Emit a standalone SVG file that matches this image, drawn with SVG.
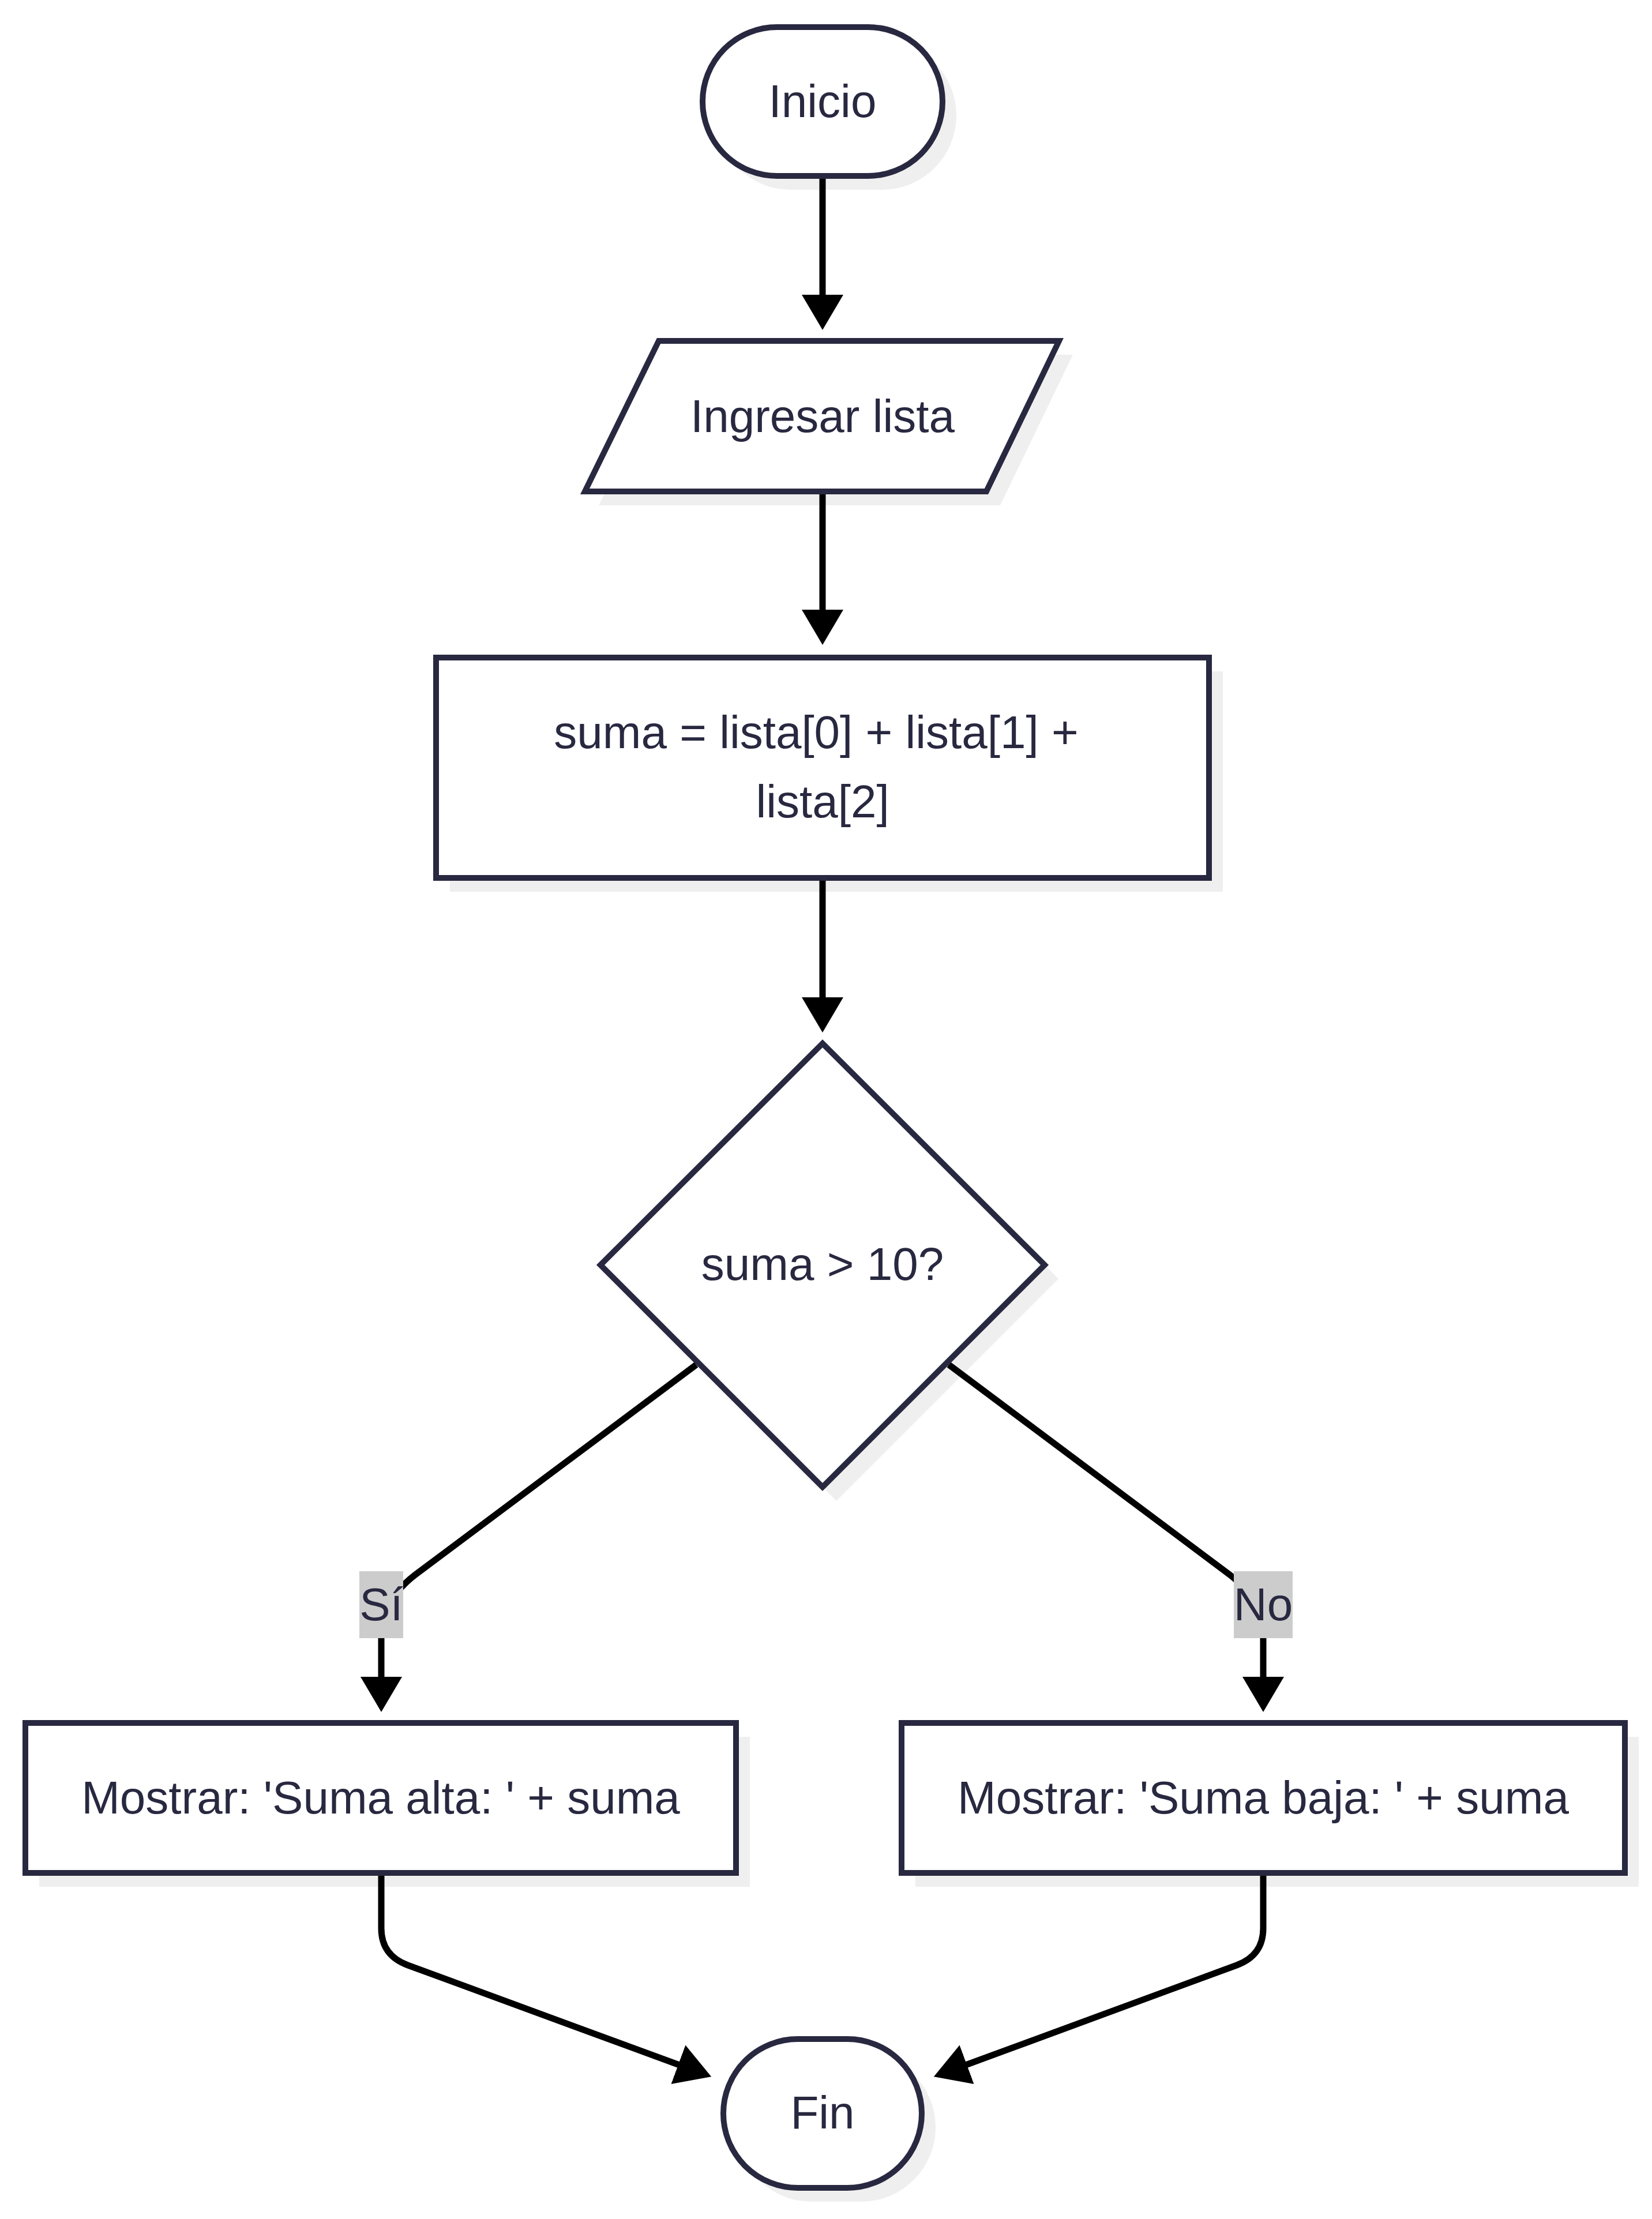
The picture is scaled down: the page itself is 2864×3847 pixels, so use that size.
<svg xmlns="http://www.w3.org/2000/svg" width="2864" height="3847" viewBox="0 0 2864 3847">
  <style>
    .node { fill: #ffffff; stroke: #282840; stroke-width: 10; }
    .shadow { fill: #efefef; stroke: none; }
    .edge { fill: none; stroke: #000000; stroke-width: 11; }
    .label { font-family: "Liberation Sans", Arial, sans-serif; font-size: 80px; fill: #282840; text-anchor: middle; }
    .label-bg { fill: #cccccc; }
  </style>
  <defs>
    <marker id="arrow" markerUnits="userSpaceOnUse" markerWidth="62" markerHeight="74" refX="31" refY="37" orient="auto">
      <path d="M0,1 L61,37 L0,73 Z" fill="#000000"/>
    </marker>
  </defs>

  <!-- drop shadows -->
  <g id="shadows">
    <rect class="shadow" x="1242" y="71" width="416" height="258" rx="129"/>
    <polygon class="shadow" points="1166,615 1860,615 1734,876 1038,876"/>
    <rect class="shadow" x="780" y="1164" width="1340" height="382"/>
    <polygon class="shadow" points="1450,1833 1835,2217 1450,2602 1065,2217"/>
    <rect class="shadow" x="68" y="3011" width="1232" height="260"/>
    <rect class="shadow" x="1587" y="3011" width="1254" height="260"/>
    <rect class="shadow" x="1278" y="3559" width="344" height="258" rx="129"/>
  </g>

  <!-- connectors -->
  <g id="edges">
    <path class="edge" d="M1426,305 L1426,542" marker-end="url(#arrow)"/>
    <path class="edge" d="M1426,852 L1426,1088" marker-end="url(#arrow)"/>
    <path class="edge" d="M1426,1522 L1426,1760" marker-end="url(#arrow)"/>
    <path class="edge" d="M1207,2366 L720,2730 Q662,2774 661,2840 L661,2938" marker-end="url(#arrow)"/>
    <path class="edge" d="M1645,2366 L2132,2730 Q2188,2774 2190,2840 L2190,2938" marker-end="url(#arrow)"/>
    <path class="edge" d="M661,3247 L661,3343 Q661,3390 707,3407 L1205,3590" marker-end="url(#arrow)"/>
    <path class="edge" d="M2190,3247 L2190,3343 Q2190,3390 2144,3407 L1647,3590" marker-end="url(#arrow)"/>
    <g id="edge-label-si">
      <rect class="label-bg" x="623" y="2724" width="76" height="116"/>
      <text class="label" x="661" y="2809">Sí</text>
    </g>
    <g id="edge-label-no">
      <rect class="label-bg" x="2139" y="2724" width="102" height="116"/>
      <text class="label" x="2190" y="2809">No</text>
    </g>
  </g>

  <!-- nodes -->
  <g id="inicio">
    <rect class="node" x="1218" y="47" width="416" height="258" rx="129"/>
    <text class="label" x="1426" y="203">Inicio</text>
  </g>
  <g id="ingresar">
    <polygon class="node" points="1142,591 1836,591 1710,852 1014,852"/>
    <text class="label" x="1426" y="749">Ingresar lista</text>
  </g>
  <g id="suma">
    <rect class="node" x="756" y="1140" width="1340" height="382"/>
    <text class="label" x="1415" y="1297">suma = lista[0] + lista[1] +</text>
    <text class="label" x="1426" y="1417">lista[2]</text>
  </g>
  <g id="decision">
    <polygon class="node" points="1426,1809 1811,2193 1426,2578 1041,2193"/>
    <text class="label" x="1426" y="2219">suma &gt; 10?</text>
  </g>
  <g id="mostrar-alta">
    <rect class="node" x="44" y="2987" width="1232" height="260"/>
    <text class="label" x="660" y="3144">Mostrar: 'Suma alta: ' + suma</text>
  </g>
  <g id="mostrar-baja">
    <rect class="node" x="1563" y="2987" width="1254" height="260"/>
    <text class="label" x="2190" y="3144">Mostrar: 'Suma baja: ' + suma</text>
  </g>
  <g id="fin">
    <rect class="node" x="1254" y="3535" width="344" height="258" rx="129"/>
    <text class="label" x="1426" y="3690">Fin</text>
  </g>
</svg>
